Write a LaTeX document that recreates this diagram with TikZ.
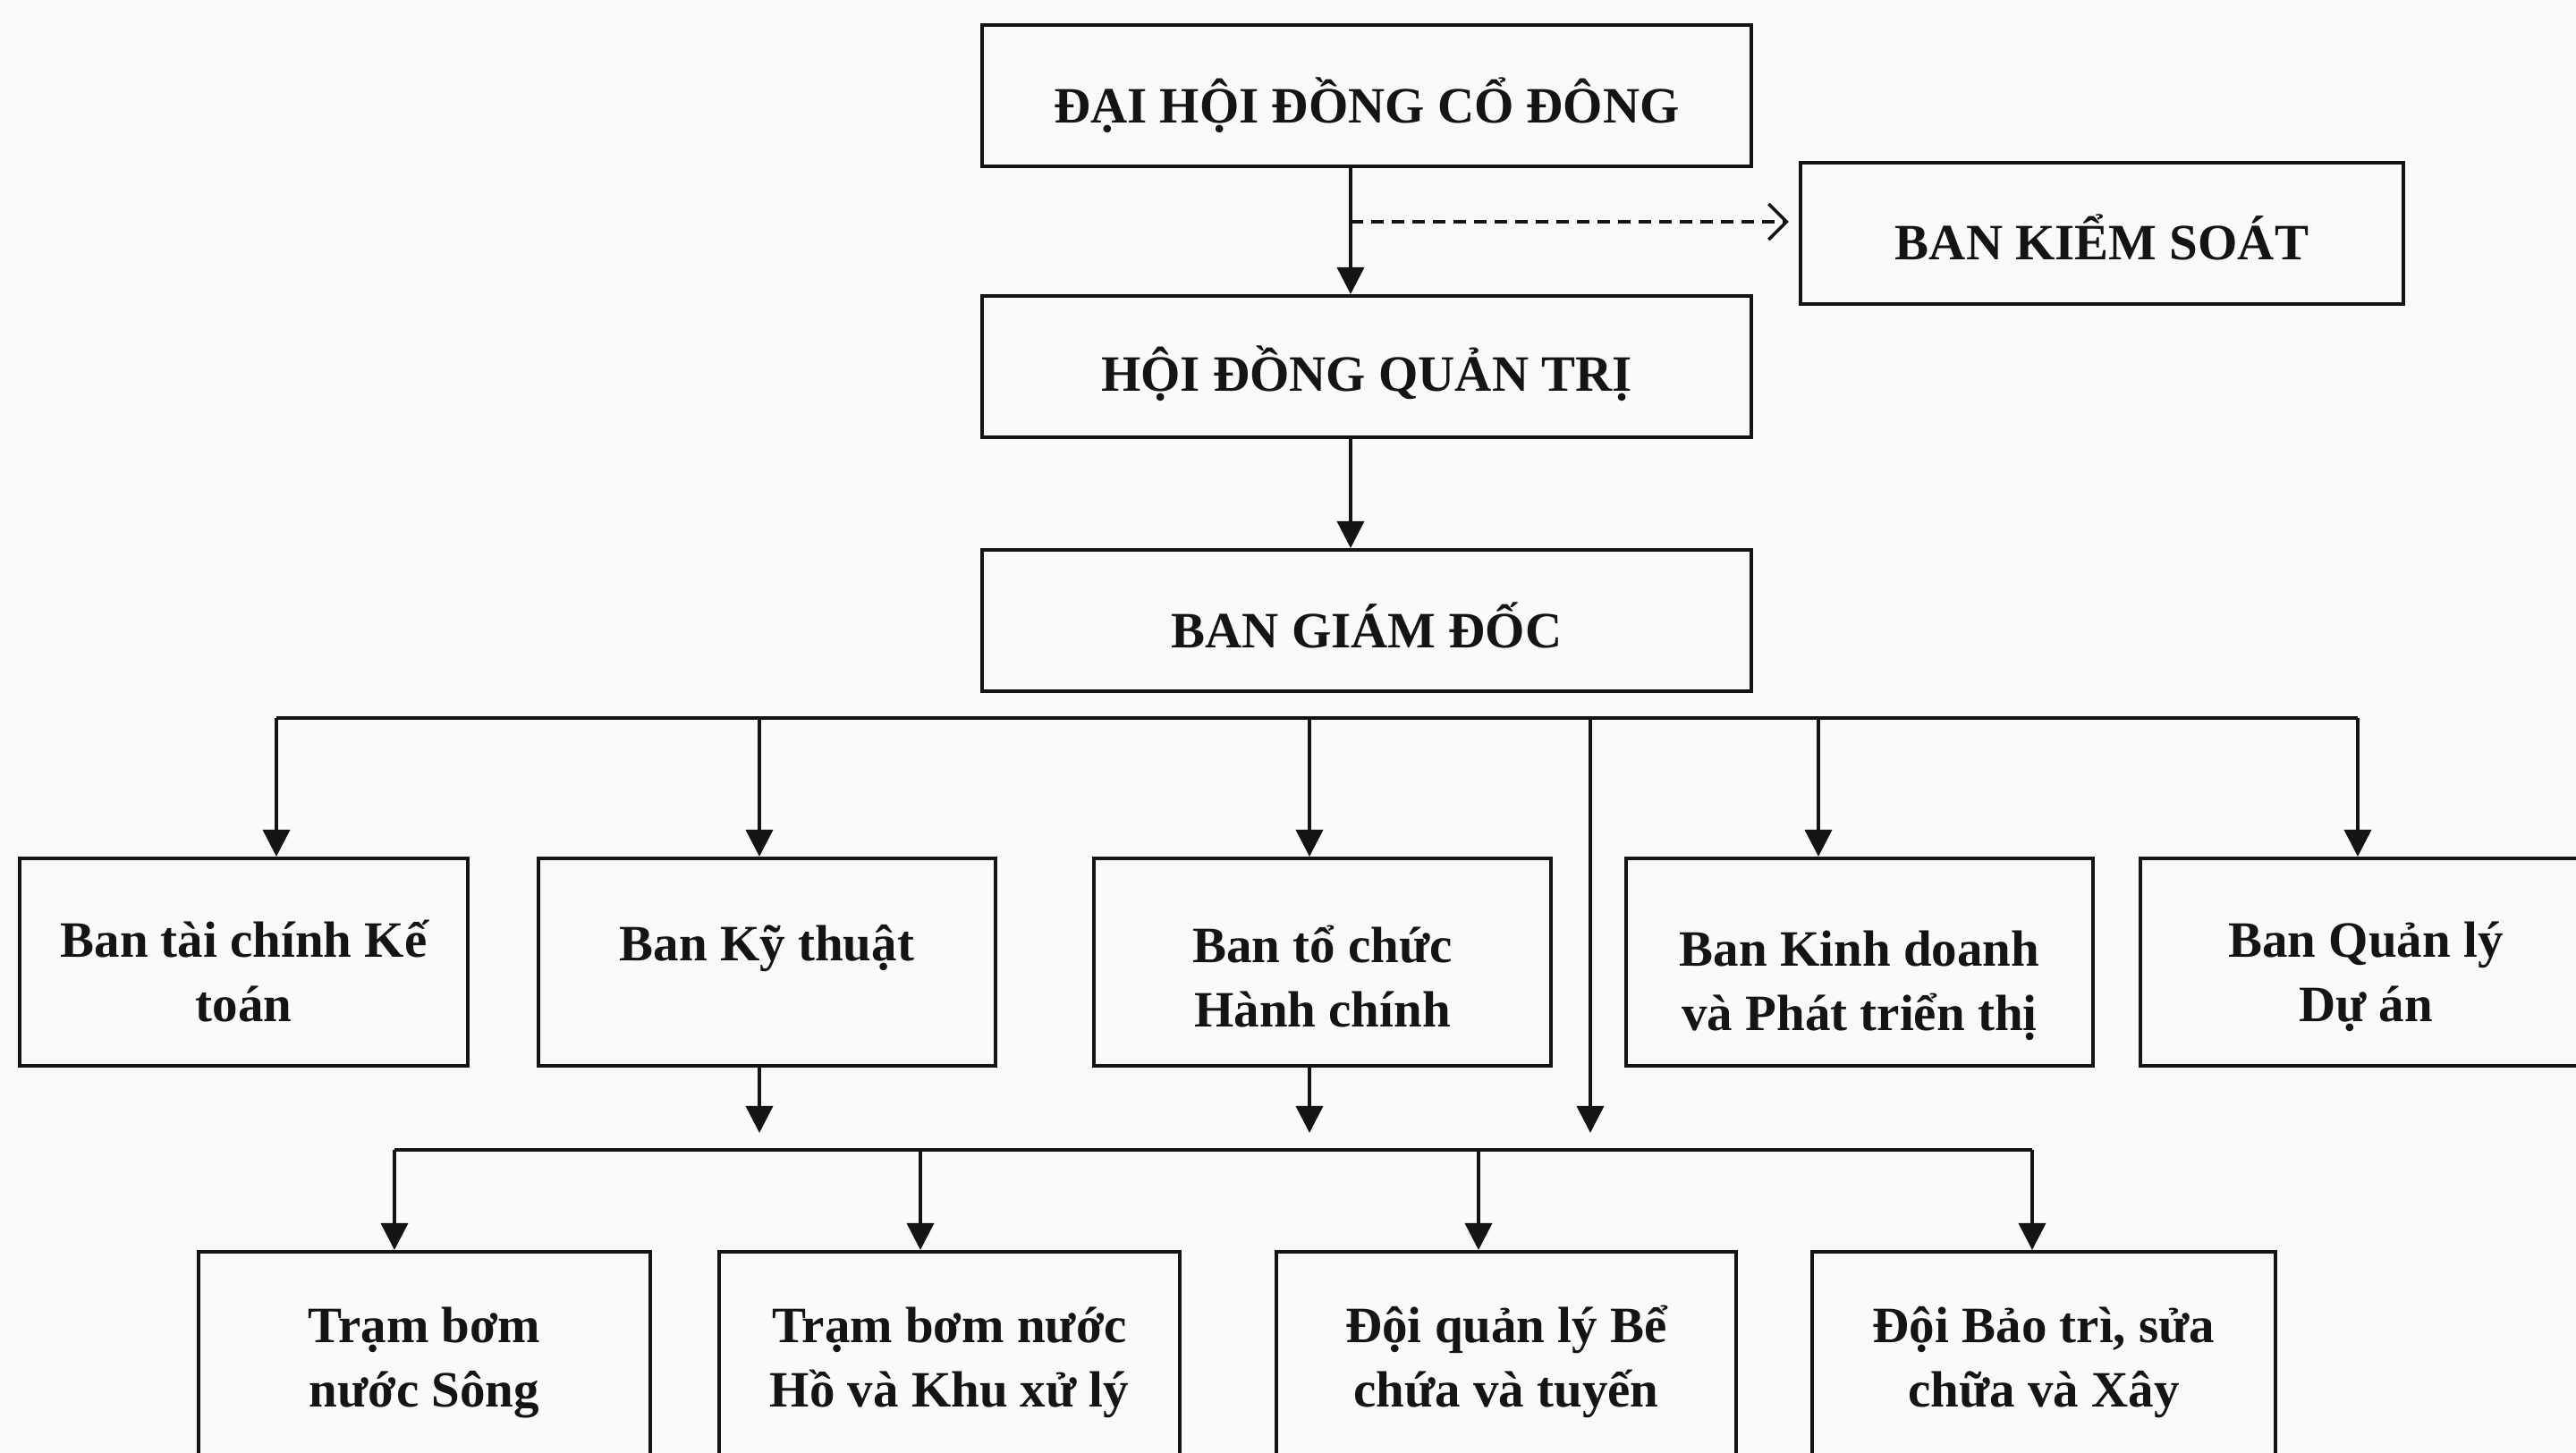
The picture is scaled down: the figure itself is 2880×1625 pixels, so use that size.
\documentclass[tikz,border=0pt]{standalone}
\usepackage{fontspec}
\setmainfont{Liberation Serif}
\usetikzlibrary{arrows.meta}
\definecolor{paper}{RGB}{250,250,252}
\definecolor{ink}{RGB}{20,20,20}
\newcommand\mylow[2]{\raisebox{-#1}[\height][\depth]{\begin{tabular}{@{}c@{}}#2\end{tabular}}}
\begin{document}
\begin{tikzpicture}[x=0.01cm,y=-0.01cm,
  box/.style={draw=ink, line width=1.1pt, inner sep=0pt, align=center, text=ink,
    font=\bfseries\fontsize{16.2}{20.5}\selectfont},
  topbox/.style={box, minimum height=1.58cm},
  midbox/.style={box, minimum height=2.32cm},
  lowbox/.style={box, minimum height=2.34cm},
  arr/.style={draw=ink, line width=1pt, -{Triangle[length=0.3cm,width=0.3cm]}},
  ln/.style={draw=ink, line width=1pt},
  dasharr/.style={draw=ink, line width=0.9pt, dash pattern=on 0.14cm off 0.09cm,
    -{Straight Barb[length=0.2cm,width=0.4cm,line width=1pt]}, shorten >=0.11cm}]

\useasboundingbox (0,0) rectangle (2880,1625);
\clip (0,0) rectangle (2880,1625);
\fill[paper] (0,0) rectangle (2880,1625);

% top column
\node[topbox, minimum width=8.60cm] (dh) at (1528,107) {\mylow{0.155cm}{ĐẠI HỘI ĐỒNG CỔ ĐÔNG}};
\node[topbox, minimum width=6.74cm] (bks) at (2350,261) {\mylow{0.15cm}{BAN KIỂM SOÁT}};
\node[topbox, minimum width=8.60cm] (hdqt) at (1528,410) {\mylow{0.13cm}{HỘI ĐỒNG QUẢN TRỊ}};
\node[topbox, minimum width=8.60cm] (bgd) at (1528,694) {\mylow{0.16cm}{BAN GIÁM ĐỐC}};

\coordinate (v1) at (1510,0);
\coordinate (d1) at (1510,248);
\draw[arr] (dh.south -| v1) -- (hdqt.north -| v1);
\draw[dasharr] (d1) -- (d1 -| bks.west);
\draw[arr] (hdqt.south -| v1) -- (bgd.north -| v1);

% level 2
\node[midbox, minimum width=5.01cm] (b1) at (272.5,1076) {\mylow{0.165cm}{Ban tài chính Kế\\toán}};
\node[midbox, minimum width=5.11cm] (b2) at (857.5,1076) {\mylow{0.205cm}{Ban Kỹ thuật\\\mbox{}}};
\node[midbox, minimum width=5.11cm] (b3) at (1478.5,1076) {\mylow{0.225cm}{Ban tổ chức\\Hành chính}};
\node[midbox, minimum width=5.22cm] (b4) at (2079,1076) {\mylow{0.26cm}{Ban Kinh doanh\\và Phát triển thị}};
\node[midbox, minimum width=5.04cm] (b5) at (2645,1076) {\mylow{0.16cm}{Ban Quản lý\\Dự án}};

% bus 1
\coordinate (k1) at (309,803);
\coordinate (k2) at (849,803);
\coordinate (k3) at (1464,803);
\coordinate (k6) at (1778,803);
\coordinate (k4) at (2033,803);
\coordinate (k5) at (2636,803);
\draw[ln] (k1) -- (k5);
\draw[arr] (k1) -- (k1 |- b1.north);
\draw[arr] (k2) -- (k2 |- b2.north);
\draw[arr] (k3) -- (k3 |- b3.north);
\draw[arr] (k4) -- (k4 |- b4.north);
\draw[arr] (k5) -- (k5 |- b5.north);

% level 2 -> bus 2
\coordinate (e) at (0,1267);
\draw[arr] (b2.south -| k2) -- (e -| k2);
\draw[arr] (b3.south -| k3) -- (e -| k3);
\draw[arr] (k6) -- (e -| k6);

% bus 2
\coordinate (m1) at (441,1286);
\coordinate (m2) at (1029,1286);
\coordinate (m3) at (1653,1286);
\coordinate (m4) at (2272,1286);
\draw[ln] (m1) -- (m4);

% level 3
\node[lowbox, minimum width=5.05cm] (c1) at (474.5,1517) {\mylow{0.06cm}{Trạm bơm\\nước Sông}};
\node[lowbox, minimum width=5.15cm] (c2) at (1061.5,1517) {\mylow{0.06cm}{Trạm bơm nước\\Hồ và Khu xử lý}};
\node[lowbox, minimum width=5.14cm] (c3) at (1684,1517) {\mylow{0.06cm}{Đội quản lý Bể\\chứa và tuyến}};
\node[lowbox, minimum width=5.18cm] (c4) at (2285,1517) {\mylow{0.06cm}{Đội Bảo trì, sửa\\chữa và Xây}};

\draw[arr] (m1) -- (m1 |- c1.north);
\draw[arr] (m2) -- (m2 |- c2.north);
\draw[arr] (m3) -- (m3 |- c3.north);
\draw[arr] (m4) -- (m4 |- c4.north);
\end{tikzpicture}
\end{document}
